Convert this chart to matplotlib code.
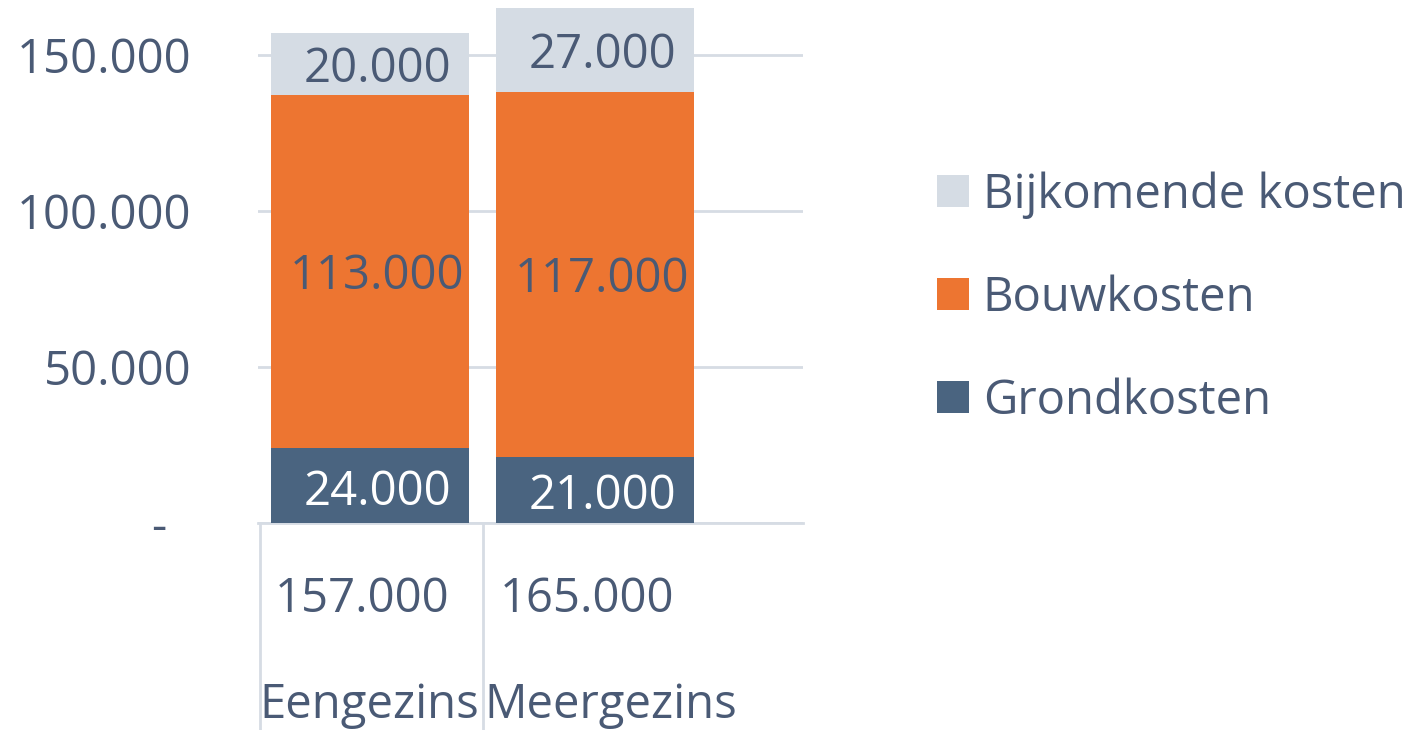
import matplotlib
matplotlib.use("Agg")
import matplotlib.pyplot as plt
import numpy as np

categories = ["Eengezins", "Meergezins"]
grondkosten = [24000, 21000]
bouwkosten = [113000, 117000]
bijkomende = [20000, 27000]
totals = [157000, 165000]
series_names = ["Bijkomende kosten", "Bouwkosten", "Grondkosten"]
yticks = [0, 50000, 100000, 150000]

def fmt(v):
    return "-  " if v == 0 else f"{v:,.0f}".replace(",", ".")

plt.rcParams['font.family'] = ['Open Sans', 'DejaVu Sans']
TXT = "#4A5A75"
C_GROND = "#4A6480"
C_BOUW = "#ED7531"
C_BIJ = "#D5DCE4"
GRID = "#D6DCE4"

W, H = 1416, 730
fig = plt.figure(figsize=(W / 100, H / 100), dpi=100)
ax = fig.add_axes([258 / W, 1 - 523 / H, (803 - 258) / W, 523 / H])

x = np.arange(len(categories))
bw = 0.88
b1 = ax.bar(x, grondkosten, bw, color=C_GROND, label=series_names[2], zorder=3)
bottom2 = np.array(grondkosten)
b2 = ax.bar(x, bouwkosten, bw, bottom=bottom2, color=C_BOUW, label=series_names[1], zorder=3)
bottom3 = bottom2 + np.array(bouwkosten)
b3 = ax.bar(x, bijkomende, bw, bottom=bottom3, color=C_BIJ, label=series_names[0], zorder=3)

fs = 34
dx = 0.03
for i in range(len(categories)):
    ax.text(x[i] + dx, grondkosten[i] / 2 - 2000, fmt(grondkosten[i]), ha="center", va="center",
            color="white", fontsize=fs, zorder=4)
    ax.text(x[i] + dx, bottom2[i] + bouwkosten[i] / 2 - 1500, fmt(bouwkosten[i]), ha="center", va="center",
            color=TXT, fontsize=fs, zorder=4)
    ax.text(x[i] + dx, bottom3[i] + bijkomende[i] / 2 - 1500, fmt(bijkomende[i]), ha="center", va="center",
            color=TXT, fontsize=fs, zorder=4)

ax.set_xlim(-0.5, 1.924)
ax.set_ylim(0, 167600)
ax.set_yticks(yticks)
ax.set_yticklabels([fmt(v) for v in yticks], color=TXT, fontsize=fs)
ax.tick_params(axis="y", length=0, pad=48)
ax.set_xticks([])
ax.yaxis.grid(True, color=GRID, linewidth=2, zorder=0)
for s in ["top", "right", "left"]:
    ax.spines[s].set_visible(False)
ax.spines["bottom"].set_color(GRID)
ax.spines["bottom"].set_linewidth(2)

# data-table style area below the axis
for xb in [-0.49, 0.5]:
    ax.plot([xb, xb], [0, -70000], color=GRID, linewidth=2, clip_on=False, zorder=2)
for i in range(len(categories)):
    ax.text(x[i] - 0.035, -24500, fmt(totals[i]), ha="center", va="center", color=TXT,
            fontsize=fs, clip_on=False)
    ax.text(x[i] - 0.495, -58500, categories[i], ha="left", va="center", color=TXT,
            fontsize=fs, clip_on=False)

handles = [b3, b2, b1]
leg = fig.legend(handles, series_names, loc="center left", bbox_to_anchor=(937 / W, 1 - 298 / H),
                 frameon=False, fontsize=fs, labelcolor=TXT, handlelength=0.67, handleheight=0.67,
                 handletextpad=0.3, labelspacing=1.18, borderpad=0, borderaxespad=0)

fig.savefig("out.png", dpi=100)
